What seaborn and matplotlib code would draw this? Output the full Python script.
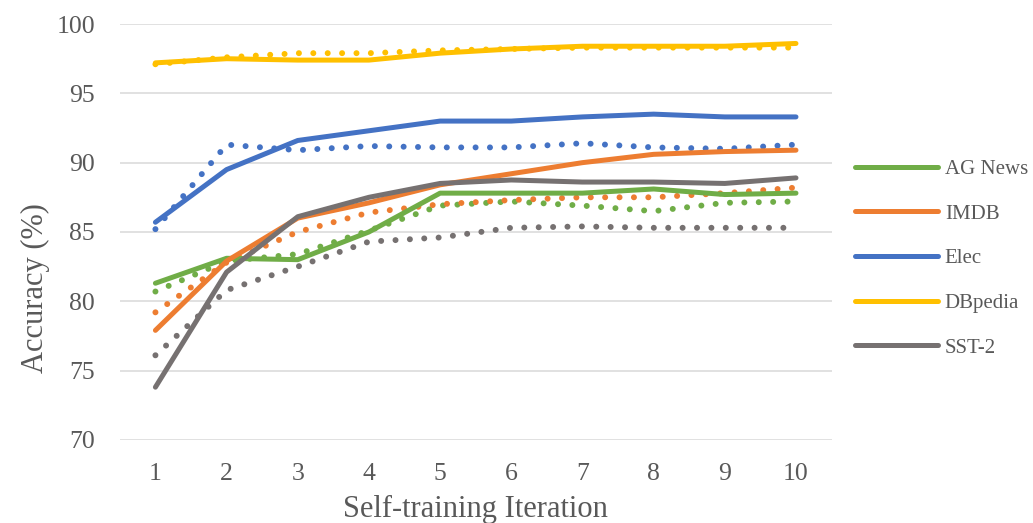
import pandas as pd
import matplotlib.pyplot as plt
import seaborn as sns

# Accuracy per self-training iteration
iterations = list(range(1, 11))
datasets = ['AG News', 'IMDB', 'Elec', 'DBpedia', 'SST-2']
colors = ['#70AD47', '#ED7D31', '#4472C4', '#FFC000', '#767171']

# solid lines
ag_news = [81.3, 83.1, 83.0, 85.0, 87.8, 87.8, 87.8, 88.1, 87.7, 87.8]
imdb = [77.9, 82.9, 86.0, 87.1, 88.4, 89.2, 90.0, 90.6, 90.8, 90.9]
elec = [85.7, 89.5, 91.6, 92.3, 93.0, 93.0, 93.3, 93.5, 93.3, 93.3]
dbpedia = [97.2, 97.5, 97.4, 97.4, 97.9, 98.2, 98.4, 98.4, 98.4, 98.6]
sst2 = [73.8, 82.1, 86.1, 87.5, 88.5, 88.75, 88.6, 88.6, 88.5, 88.9]

# dotted lines
ag_news_dot = [80.7, 82.9, 83.4, 85.1, 86.9, 87.2, 86.9, 86.5, 87.1, 87.2]
imdb_dot = [79.2, 82.8, 85.0, 86.4, 87.0, 87.3, 87.5, 87.5, 87.8, 88.2]
elec_dot = [85.2, 91.3, 90.9, 91.2, 91.1, 91.1, 91.4, 91.1, 91.0, 91.3]
dbpedia_dot = [97.1, 97.6, 97.9, 97.9, 98.1, 98.2, 98.3, 98.3, 98.3, 98.3]
sst2_dot = [76.1, 80.8, 82.5, 84.3, 84.6, 85.3, 85.4, 85.3, 85.3, 85.3]

solid = [ag_news, imdb, elec, dbpedia, sst2]
dotted = [ag_news_dot, imdb_dot, elec_dot, dbpedia_dot, sst2_dot]

sns.set_style('white')
plt.rcParams['font.family'] = ['Liberation Serif', 'DejaVu Serif']

fig = plt.figure(figsize=(10.33, 5.23), dpi=100)
ax = fig.add_axes([0.116, 0.159, 0.689, 0.795])

for name, col, vals in zip(datasets, colors, dotted):
    df = pd.DataFrame({'it': iterations, 'acc': vals})
    sns.lineplot(data=df, x='it', y='acc', ax=ax, color=col, lw=4.3,
                 linestyle=(0, (0.01, 2.4)), dash_capstyle='round', zorder=2)

for name, col, vals in zip(datasets, colors, solid):
    df = pd.DataFrame({'it': iterations, 'acc': vals})
    sns.lineplot(data=df, x='it', y='acc', ax=ax, color=col, lw=3.6,
                 solid_capstyle='round', label=name, zorder=3)

ax.set_xlim(0.5, 10.5)
ax.set_ylim(70, 100)
ax.set_xticks(iterations)
ax.set_yticks(range(70, 101, 5))
ax.grid(axis='y', color='#d9d9d9', lw=1.1)
ax.set_axisbelow(True)
for s in ax.spines.values():
    s.set_visible(False)
ax.tick_params(axis='both', length=0, labelsize=18.5, colors='#595959')
ax.tick_params(axis='x', pad=17)
ax.tick_params(axis='y', pad=18)

ax.set_xlabel('Self-training Iteration', fontsize=22, color='#595959', labelpad=7)
ax.set_ylabel('Accuracy (%)', fontsize=22, color='#595959')
ax.yaxis.set_label_coords(-0.098, 0.365)

leg = ax.legend(loc='center left', bbox_to_anchor=(1.006, 0.436), frameon=False,
                fontsize=15, handlelength=4.0, labelspacing=1.2, handletextpad=0.33)
for t in leg.get_texts():
    t.set_color('#595959')

fig.savefig('out.png', dpi=100)
